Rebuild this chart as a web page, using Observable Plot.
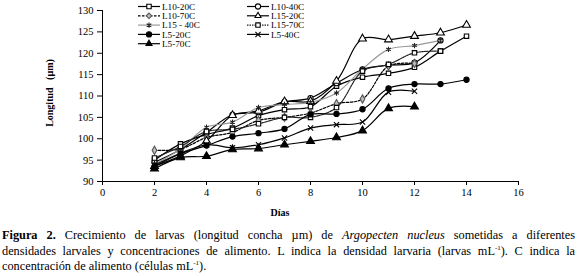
<!DOCTYPE html>
<html><head><meta charset="utf-8">
<script src="https://cdn.jsdelivr.net/npm/d3@7"></script>
<script src="https://cdn.jsdelivr.net/npm/@observablehq/plot@0.6"></script>
<style>
body{margin:0;background:#fff;font-family:"Liberation Serif","Times New Roman",serif;}
#wrap{position:relative;width:577px;height:276px;overflow:hidden;}
#cap{position:absolute;left:2px;top:228px;width:573px;font-family:"Liberation Serif",serif;font-size:12.3px;line-height:15.5px;color:#000;}
#cap div{text-align:justify;text-align-last:justify;white-space:nowrap;}
#cap div.last{text-align-last:left;}
sup{font-size:7px;vertical-align:5px;line-height:0;}
</style></head><body>
<div id="wrap"><div id="chart"></div>
<div id="cap">
<div><b>Figura 2.</b> Crecimiento de larvas (longitud concha µm) de <i>Argopecten nucleus</i> sometidas a diferentes</div>
<div>densidades larvales y concentraciones de alimento. L indica la densidad larvaria (larvas mL<sup>-1</sup>). C indica la</div>
<div class="last">concentración de alimento (células mL<sup>-1</sup>).</div>
</div></div>
<script>
const xTicks = [0, 2, 4, 6, 8, 10, 12, 14, 16];
const yTicks = [90, 95, 100, 105, 110, 115, 120, 125, 130];
const days = [2, 3, 4, 5, 6, 7, 8, 9, 10, 11, 12, 13, 14];
const seriesNames = ["L10-20C", "L10-40C", "L10-70C", "L15-20C", "L15-40C", "L15-70C", "L5-20C", "L5-40C", "L5-70C"];
const legendLabels = ["L10-20C", "L10-40C", "L10-70C", "L15-20C", "L15 - 40C", "L15-70C", "L5-20C", "L5-40C", "L5-70C"];
const L10_20C = [95.0, 98.8, 101.0, 102.5, 105.4, 106.8, 107.5, 112.3, 114.4, 115.3, 116.7, 120.5, 124.0];
const L10_40C = [94.5, 97.5, 101.5, 105.6, 106.2, 108.6, 109.5, 113.0, 116.2, 117.2, 117.8, 123.0];
const L10_70C = [97.3, 97.6, 100.3, 101.5, 104.3, 105.0, 106.0, 108.2, 109.3, 117.0, 117.6];
const L15_20C = [93.6, 96.0, 99.5, 105.5, 106.5, 108.7, 108.8, 113.5, 123.4, 123.2, 124.0, 124.8, 126.6];
const L15_40C = [94.0, 97.6, 102.7, 103.9, 107.3, 108.0, 108.5, 110.7, 116.3, 120.9, 121.8, 123.0];
const L15_70C = [95.5, 98.2, 101.7, 102.2, 103.5, 105.0, 105.0, 107.3, 115.8, 117.4, 120.1, 120.5];
const L5_20C  = [93.5, 96.5, 98.4, 100.5, 101.3, 102.3, 105.7, 105.8, 106.9, 111.8, 112.8, 112.8, 113.8];
const L5_40C  = [93.8, 96.6, 98.6, 97.9, 98.6, 100.2, 102.5, 103.3, 103.9, 110.9, 111.1];
const L5_70C  = [93.0, 95.6, 95.9, 97.5, 97.7, 98.6, 99.4, 100.3, 101.9, 107.1, 107.5];
const seriesValues = [L10_20C, L10_40C, L10_70C, L15_20C, L15_40C, L15_70C, L5_20C, L5_40C, L5_70C];

const styles = {
  "L10-20C": {stroke: "#000", dash: null, symbol: "square", fill: "#fff", ms: "#000"},
  "L10-40C": {stroke: "#000", dash: null, symbol: "circle", fill: "#fff", ms: "#000"},
  "L10-70C": {stroke: "#000", dash: "2.5,1.5", symbol: "diamond", fill: "#bbb", ms: "#555"},
  "L15-20C": {stroke: "#000", dash: null, symbol: "triangle", fill: "#fff", ms: "#000"},
  "L15-40C": {stroke: "#999", dash: null, symbol: "asterisk", fill: "none", ms: "#222"},
  "L15-70C": {stroke: "#222", dash: "1.5,1", symbol: "square", fill: "#fff", ms: "#000"},
  "L5-20C":  {stroke: "#000", dash: null, symbol: "circle", fill: "#000", ms: "#000"},
  "L5-40C":  {stroke: "#000", dash: null, symbol: "times", fill: "none", ms: "#000"},
  "L5-70C":  {stroke: "#000", dash: null, symbol: "triangle", fill: "#000", ms: "#000"}
};
const FONT = "'Liberation Serif', 'Times New Roman', serif";
const rOf = s => s === "triangle" ? 2.9 : (s === "circle" ? 2.6 : 2.5);

const rows = [];
seriesNames.forEach((s, i) => seriesValues[i].forEach((v, j) => rows.push({series: s, day: days[j], value: v})));

const marks = [];
seriesNames.forEach(s => {
  const st = styles[s];
  const d = rows.filter(r => r.series === s);
  marks.push(Plot.line(d, {x: "day", y: "value", stroke: st.stroke, strokeWidth: 1.2, strokeDasharray: st.dash, curve: "catmull-rom"}));
});
seriesNames.forEach(s => {
  const st = styles[s];
  const d = rows.filter(r => r.series === s);
  marks.push(Plot.dot(d, {x: "day", y: "value", symbol: () => st.symbol, r: rOf(st.symbol), fill: st.fill, stroke: st.ms, strokeWidth: 1.1}));
});

const chart = Plot.plot({
  width: 577, height: 226,
  marginLeft: 102, marginRight: 59, marginTop: 10, marginBottom: 45,
  style: {fontFamily: FONT, fontSize: "10.5px", color: "#000", background: "#fff"},
  x: {domain: [0, 16]},
  y: {domain: [90, 130]},
  symbol: {type: "identity"},
  marks: [
    ...marks,
    Plot.axisX({ticks: xTicks, tickSize: 4, tickPadding: 3, tickFormat: d => d, label: null, fontSize: 10.5, fontFamily: FONT}),
    Plot.axisY({ticks: yTicks, tickSize: 5, tickPadding: 4, tickFormat: d => d, label: null, fontSize: 10.5, fontFamily: FONT}),
    Plot.ruleX([0], {stroke: "#000"}),
    Plot.ruleY([90], {stroke: "#000"})
  ]
});
document.getElementById("chart").appendChild(chart);

const svg = d3.select(chart);
svg.append("text").attr("x", 280).attr("y", 216).attr("text-anchor", "middle").attr("font-family", FONT)
  .attr("font-weight", "bold").attr("font-size", 10).text("Días");
svg.append("text").attr("transform", "translate(53,93) rotate(-90)").attr("text-anchor", "middle").attr("font-family", FONT)
  .attr("font-weight", "bold").attr("font-size", 10).style("white-space", "pre").text("Longitud   (µm)");

const symMap = {square: d3.symbolSquare, circle: d3.symbolCircle, diamond: d3.symbolDiamond2, triangle: d3.symbolTriangle2, asterisk: d3.symbolAsterisk, times: d3.symbolTimes};
const leg = svg.append("g").attr("font-size", 9.2).attr("font-family", FONT).attr("text-anchor", "start");
seriesNames.forEach((s, i) => {
  const st = styles[s];
  const col = i % 2, row = Math.floor(i / 2);
  const x0 = col ? 247 : 138, y0 = 6.5 + row * 9.3;
  leg.append("line").attr("x1", x0).attr("x2", x0 + 22).attr("y1", y0).attr("y2", y0)
    .attr("stroke", st.stroke).attr("stroke-width", 1.2).attr("stroke-dasharray", st.dash);
  const r = rOf(st.symbol);
  leg.append("path").attr("d", d3.symbol(symMap[st.symbol], Math.PI * r * r)())
    .attr("transform", `translate(${x0 + 11},${y0})`)
    .attr("fill", st.fill).attr("stroke", st.ms).attr("stroke-width", 1.1);
  leg.append("text").attr("x", x0 + 24).attr("y", y0).attr("dy", "0.35em").text(legendLabels[i]);
});
</script>
</body></html>
